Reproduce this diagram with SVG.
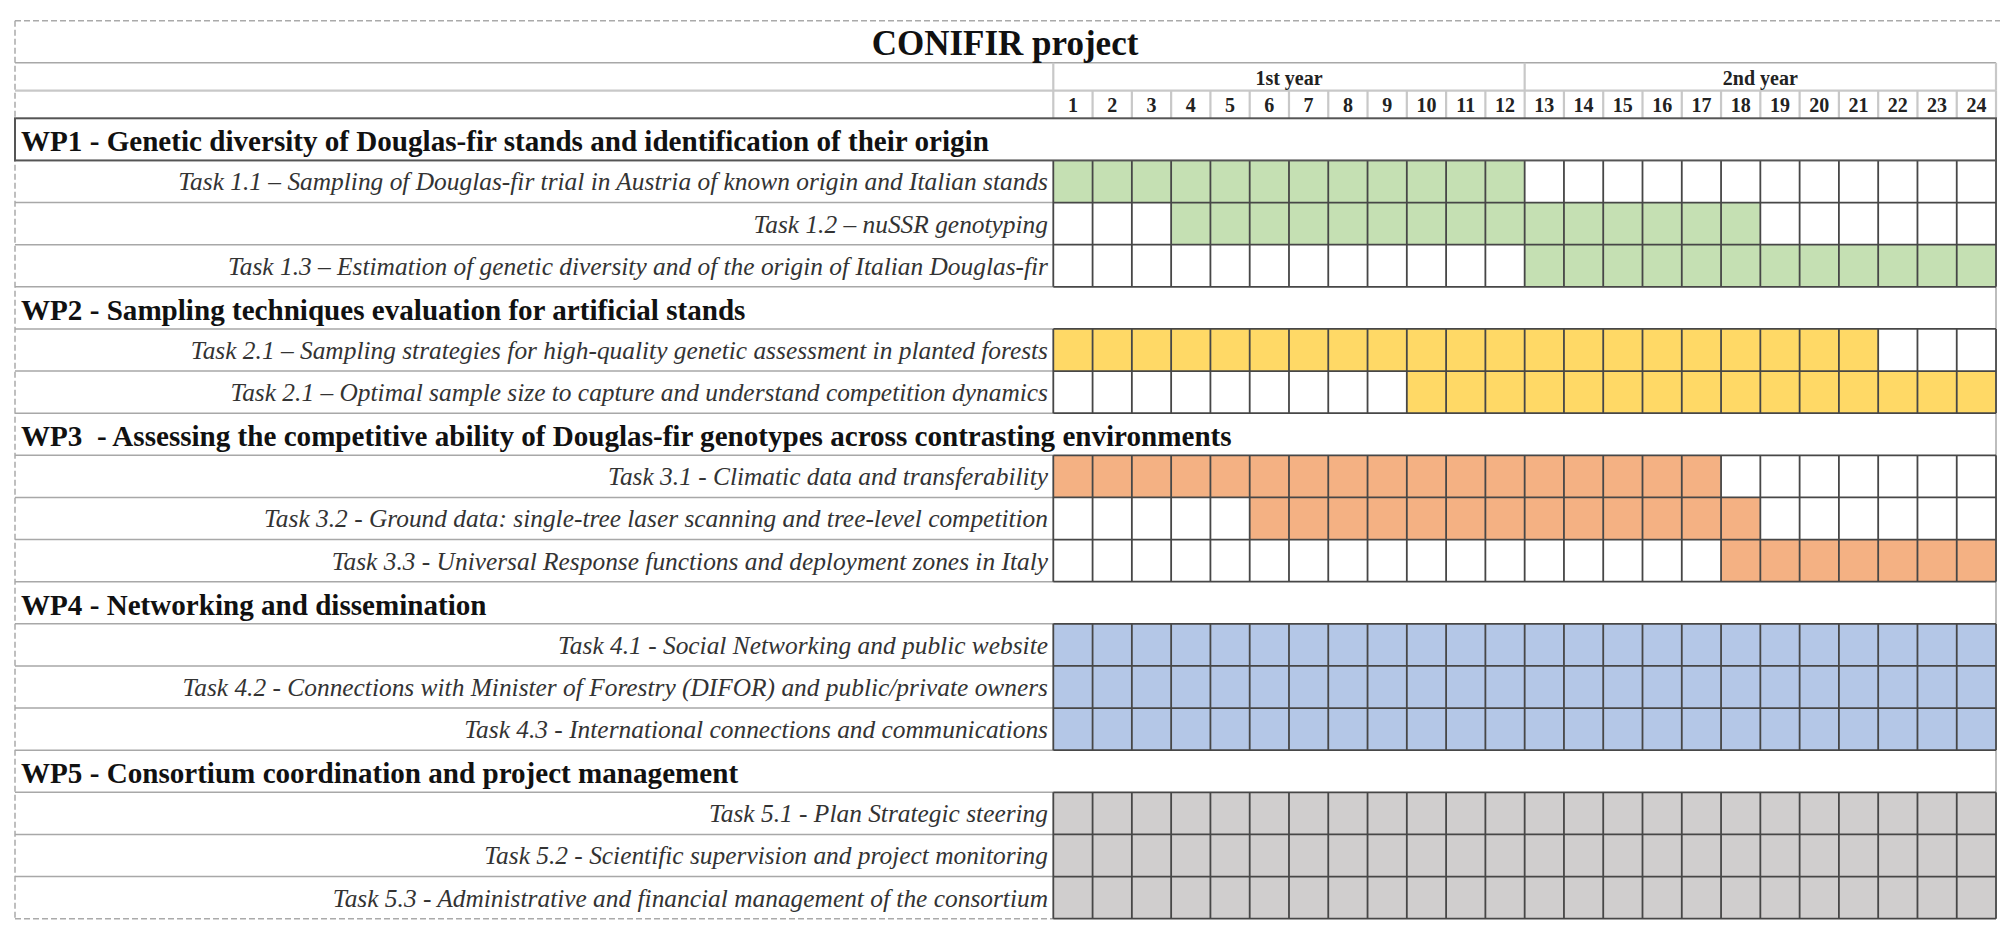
<svg xmlns="http://www.w3.org/2000/svg" xmlns:xlink="http://www.w3.org/1999/xlink" width="2016" height="927" viewBox="0 0 2016 927">
<style>
.title{font-family:"Liberation Serif","Times New Roman",serif;font-weight:bold;font-size:35px;fill:#111}
.yr{font-family:"Liberation Serif","Times New Roman",serif;font-weight:bold;font-size:20px;fill:#222;text-anchor:middle}
.mo{font-family:"Liberation Serif","Times New Roman",serif;font-weight:bold;font-size:20px;fill:#222;text-anchor:middle}
.wp{font-family:"Liberation Serif","Times New Roman",serif;font-weight:bold;font-size:29.1px;fill:#111}
.task{font-family:"Liberation Serif","Times New Roman",serif;font-style:italic;font-size:25.4px;fill:#333;text-anchor:end}
.g{fill:#c5e0b3}.y{fill:#ffd966}.o{fill:#f4b183}.b{fill:#b4c7e7}.s{fill:#d0cece}
.dk{stroke:#474747;stroke-width:1.8;fill:none}
.lt{stroke:#a8a8a8;stroke-width:1.5;fill:none}
.hd{stroke:#c8c8c8;stroke-width:2.2;fill:none}
.ds{stroke:#aaaaaa;stroke-width:1.5;stroke-dasharray:6 3;fill:none}
</style>
<defs>
<path id="vg3" d="M1053.3 0V126.4M1092.58 0V126.4M1131.86 0V126.4M1171.14 0V126.4M1210.42 0V126.4M1249.7 0V126.4M1288.98 0V126.4M1328.26 0V126.4M1367.54 0V126.4M1406.82 0V126.4M1446.1 0V126.4M1485.38 0V126.4M1524.66 0V126.4M1563.94 0V126.4M1603.22 0V126.4M1642.5 0V126.4M1681.78 0V126.4M1721.06 0V126.4M1760.34 0V126.4M1799.62 0V126.4M1838.9 0V126.4M1878.18 0V126.4M1917.46 0V126.4M1956.74 0V126.4M1996.02 0V126.4"/>
<path id="vg2" d="M1053.3 0V84.25M1092.58 0V84.25M1131.86 0V84.25M1171.14 0V84.25M1210.42 0V84.25M1249.7 0V84.25M1288.98 0V84.25M1328.26 0V84.25M1367.54 0V84.25M1406.82 0V84.25M1446.1 0V84.25M1485.38 0V84.25M1524.66 0V84.25M1563.94 0V84.25M1603.22 0V84.25M1642.5 0V84.25M1681.78 0V84.25M1721.06 0V84.25M1760.34 0V84.25M1799.62 0V84.25M1838.9 0V84.25M1878.18 0V84.25M1917.46 0V84.25M1956.74 0V84.25M1996.02 0V84.25"/>
<path id="vh" d="M1053.3 0V27.6M1092.58 0V27.6M1131.86 0V27.6M1171.14 0V27.6M1210.42 0V27.6M1249.7 0V27.6M1288.98 0V27.6M1328.26 0V27.6M1367.54 0V27.6M1406.82 0V27.6M1446.1 0V27.6M1485.38 0V27.6M1524.66 0V27.6M1563.94 0V27.6M1603.22 0V27.6M1642.5 0V27.6M1681.78 0V27.6M1721.06 0V27.6M1760.34 0V27.6M1799.62 0V27.6M1838.9 0V27.6M1878.18 0V27.6M1917.46 0V27.6M1956.74 0V27.6M1996.02 0V27.6"/>
</defs>
<rect x="0" y="0" width="2016" height="927" fill="#ffffff"/>

<g id="frame">
<path class="ds" d="M15 20.7H2000M15 20.7V918.7M15 918.7H1053.3"/>
<path class="lt" d="M15 62.7H1996"/>
<path class="hd" d="M15 90.7H1996" stroke-width="3"/>
<path class="hd" d="M1053.3 62.7V90.7M1524.66 62.7V90.7M1996 62.7V90.7"/>
<use href="#vh" xlink:href="#vh" y="90.7" class="hd"/>
</g>

<g id="header">
<text class="title" x="1005" y="55" text-anchor="middle">CONIFIR project</text>
<text class="yr" x="1289" y="85">1st year</text>
<text class="yr" x="1760.3" y="85">2nd year</text>
<text class="mo" x="1072.94" y="112">1</text>
<text class="mo" x="1112.22" y="112">2</text>
<text class="mo" x="1151.5" y="112">3</text>
<text class="mo" x="1190.78" y="112">4</text>
<text class="mo" x="1230.06" y="112">5</text>
<text class="mo" x="1269.34" y="112">6</text>
<text class="mo" x="1308.62" y="112">7</text>
<text class="mo" x="1347.9" y="112">8</text>
<text class="mo" x="1387.18" y="112">9</text>
<text class="mo" x="1426.46" y="112">10</text>
<text class="mo" x="1465.74" y="112">11</text>
<text class="mo" x="1505.02" y="112">12</text>
<text class="mo" x="1544.3" y="112">13</text>
<text class="mo" x="1583.58" y="112">14</text>
<text class="mo" x="1622.86" y="112">15</text>
<text class="mo" x="1662.14" y="112">16</text>
<text class="mo" x="1701.42" y="112">17</text>
<text class="mo" x="1740.7" y="112">18</text>
<text class="mo" x="1779.98" y="112">19</text>
<text class="mo" x="1819.26" y="112">20</text>
<text class="mo" x="1858.54" y="112">21</text>
<text class="mo" x="1897.82" y="112">22</text>
<text class="mo" x="1937.1" y="112">23</text>
<text class="mo" x="1976.38" y="112">24</text>
</g>

<g id="bars">
<rect class="g" x="1053.3" y="160.43" width="471.36" height="42.12"/>
<rect class="g" x="1171.14" y="202.55" width="589.2" height="42.13"/>
<rect class="g" x="1524.66" y="244.68" width="471.36" height="42.12"/>
<rect class="y" x="1053.3" y="328.93" width="824.88" height="42.12"/>
<rect class="y" x="1406.82" y="371.05" width="589.2" height="42.13"/>
<rect class="o" x="1053.3" y="455.3" width="667.76" height="42.13"/>
<rect class="o" x="1249.7" y="497.43" width="510.64" height="42.12"/>
<rect class="o" x="1721.06" y="539.55" width="274.96" height="42.13"/>
<rect class="b" x="1053.3" y="623.8" width="942.72" height="126.38"/>
<rect class="s" x="1053.3" y="792.3" width="942.72" height="126.38"/>
</g>

<g id="rowlines">
<path class="lt" d="M15 202.55H1053.3M15 244.68H1053.3M15 286.8H1053.3M15 328.93H1053.3M15 371.05H1053.3M15 413.18H1053.3M15 455.3H1053.3M15 497.43H1053.3M15 539.55H1053.3M15 581.68H1053.3M15 623.8H1053.3M15 665.93H1053.3M15 708.05H1053.3M15 750.18H1053.3M15 792.3H1053.3M15 834.43H1053.3M15 876.55H1053.3"/>
<path class="lt" d="M1996 286.8V328.93M1996 413.18V455.3M1996 581.68V623.8M1996 750.18V792.3"/>
</g>

<g id="grid" class="dk">
<use href="#vg3" xlink:href="#vg3" y="160.43"/>
<use href="#vg2" xlink:href="#vg2" y="328.93"/>
<use href="#vg3" xlink:href="#vg3" y="455.3"/>
<use href="#vg3" xlink:href="#vg3" y="623.8"/>
<use href="#vg3" xlink:href="#vg3" y="792.3"/>
<path d="M1053.3 202.55H1996M1053.3 244.68H1996M1053.3 286.8H1996M1053.3 328.93H1996M1053.3 371.05H1996M1053.3 413.18H1996M1053.3 455.3H1996M1053.3 497.43H1996M1053.3 539.55H1996M1053.3 581.68H1996M1053.3 623.8H1996M1053.3 665.93H1996M1053.3 708.05H1996M1053.3 750.18H1996M1053.3 792.3H1996M1053.3 834.43H1996M1053.3 876.55H1996M1053.3 918.68H1996"/>
</g>

<g id="wp1">
<rect x="15" y="118.3" width="1981" height="42.13" fill="none" stroke="#555555" stroke-width="2"/>
<text class="wp" x="21" y="151.3">WP1 - Genetic diversity of Douglas-fir stands and identification of their origin</text>
</g>
<g id="task1-1"><text class="task" x="1048" y="190.4">Task 1.1 – Sampling of Douglas-fir trial in Austria of known origin and Italian stands</text></g>
<g id="task1-2"><text class="task" x="1048" y="232.5">Task 1.2 – nuSSR genotyping</text></g>
<g id="task1-3"><text class="task" x="1048" y="274.7">Task 1.3 – Estimation of genetic diversity and of the origin of Italian Douglas-fir</text></g>

<g id="wp2"><text class="wp" x="21" y="319.8">WP2 - Sampling techniques evaluation for artificial stands</text></g>
<g id="task2-1"><text class="task" x="1048" y="358.9">Task 2.1 – Sampling strategies for high-quality genetic assessment in planted forests</text></g>
<g id="task2-2"><text class="task" x="1048" y="401">Task 2.1 – Optimal sample size to capture and understand competition dynamics</text></g>

<g id="wp3"><text class="wp" x="21" y="446.2" xml:space="preserve">WP3  - Assessing the competitive ability of Douglas-fir genotypes across contrasting environments</text></g>
<g id="task3-1"><text class="task" x="1048" y="485.3">Task 3.1 - Climatic data and transferability</text></g>
<g id="task3-2"><text class="task" x="1048" y="527.4">Task 3.2 - Ground data: single-tree laser scanning and tree-level competition</text></g>
<g id="task3-3"><text class="task" x="1048" y="569.5">Task 3.3 - Universal Response functions and deployment zones in Italy</text></g>

<g id="wp4"><text class="wp" x="21" y="614.7">WP4 - Networking and dissemination</text></g>
<g id="task4-1"><text class="task" x="1048" y="653.8">Task 4.1 - Social Networking and public website</text></g>
<g id="task4-2"><text class="task" x="1048" y="695.9">Task 4.2 - Connections with Minister of Forestry (DIFOR) and public/private owners</text></g>
<g id="task4-3"><text class="task" x="1048" y="738">Task 4.3 - International connections and communications</text></g>

<g id="wp5"><text class="wp" x="21" y="783.2">WP5 - Consortium coordination and project management</text></g>
<g id="task5-1"><text class="task" x="1048" y="822.3">Task 5.1 - Plan Strategic steering</text></g>
<g id="task5-2"><text class="task" x="1048" y="864.4">Task 5.2 - Scientific supervision and project monitoring</text></g>
<g id="task5-3"><text class="task" x="1048" y="906.5">Task 5.3 - Administrative and financial management of the consortium</text></g>
</svg>
